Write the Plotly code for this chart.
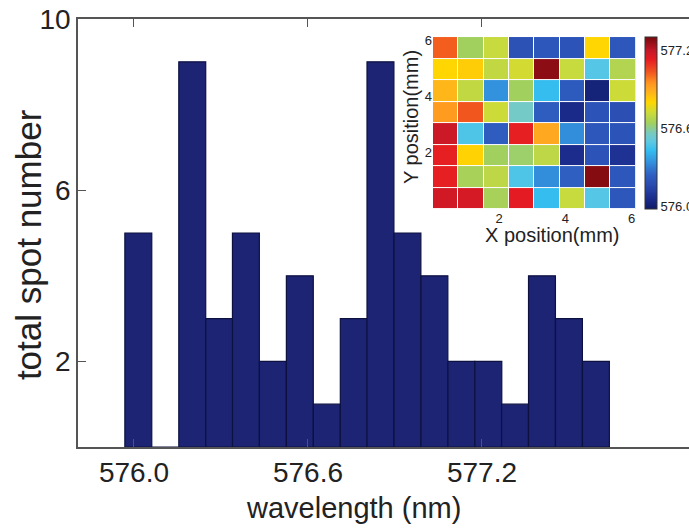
import plotly.graph_objects as go

# ---------------- data ----------------
# histogram bins (bin centres, nm) and counts
bin_centers = [576.015, 576.108, 576.201, 576.294, 576.386, 576.479, 576.572, 576.665,
               576.758, 576.850, 576.943, 577.036, 577.129, 577.222, 577.314, 577.407,
               577.500, 577.593]
counts = [5, 0, 9, 3, 5, 2, 4, 1, 3, 9, 5, 4, 2, 2, 1, 4, 3, 2]
bin_width = 0.0928

x_tick_vals = [576.0, 576.6, 577.2]
x_tick_text = ["576.0", "576.6", "577.2"]
y_tick_vals = [2, 6, 10]
y_tick_text = ["2", "6", "10"]

# inset map: cell centres (mm) and peak wavelength (nm), rows listed top to bottom
x_mm = [0.383, 1.149, 1.915, 2.681, 3.447, 4.213, 4.979, 5.745]
y_mm = [5.745, 4.979, 4.213, 3.447, 2.681, 1.915, 1.149, 0.383]
wl_map = [
    [577.02, 576.64, 576.71, 576.19, 576.21, 576.20, 576.80, 576.21],
    [576.80, 576.82, 576.70, 576.73, 577.27, 576.71, 576.48, 576.67],
    [576.87, 576.70, 576.34, 576.64, 576.43, 576.22, 576.02, 576.72],
    [576.93, 577.03, 576.72, 576.55, 576.23, 576.05, 576.20, 576.18],
    [577.18, 576.47, 576.23, 577.12, 576.90, 576.33, 576.21, 576.20],
    [577.12, 576.81, 576.64, 576.63, 576.69, 576.06, 576.20, 576.08],
    [577.12, 576.65, 576.69, 576.47, 576.33, 576.24, 577.28, 576.21],
    [577.17, 577.16, 576.65, 577.13, 576.43, 576.71, 576.48, 576.21],
]
map_tick_vals = [2, 4, 6]
cbar_tick_vals = [576.0, 576.6, 577.2]
cbar_tick_text = ["576.0", "576.6", "577.2"]

# ---------------- style ----------------
FONT = "Liberation Sans, Arial, Helvetica, sans-serif"
TXT = "#222222"
AX = "#555555"

jet_like = [
    [0.00, "#0f1a66"], [0.06, "#1b2c8c"], [0.14, "#2a4bb0"], [0.20, "#2f60c2"],
    [0.27, "#3290dc"], [0.34, "#34bdf0"], [0.39, "#5ec8e2"], [0.44, "#78cac0"],
    [0.50, "#a2d05e"], [0.56, "#ccdb3a"], [0.62, "#ffd700"], [0.69, "#ffac20"],
    [0.73, "#ff9620"], [0.80, "#f0521f"], [0.87, "#e51b22"], [0.92, "#c51828"],
    [1.00, "#760a0c"],
]

fig = go.Figure()

fig.add_trace(go.Bar(
    x=bin_centers, y=counts, width=bin_width,
    marker=dict(color="#1d2474", line=dict(color="#0c1140", width=1.2)),
    xaxis="x", yaxis="y", showlegend=False,
))

fig.add_trace(go.Heatmap(
    x=x_mm, y=y_mm, z=wl_map,
    zmin=575.98, zmax=577.30, colorscale=jet_like,
    xgap=1, ygap=1,
    xaxis="x2", yaxis="y2",
    colorbar=dict(
        x=0.9280, xanchor="left", xpad=0, ypad=0,
        y=0.556, yanchor="bottom", len=0.402, lenmode="fraction",
        thickness=12, thicknessmode="pixels",
        outlinecolor="#333333", outlinewidth=1,
        tickvals=cbar_tick_vals, ticktext=cbar_tick_text,
        ticks="", ticklen=0,
        tickfont=dict(family=FONT, size=13, color=TXT),
    ),
))

fig.update_layout(
    width=689, height=531,
    margin=dict(l=78, r=0, t=19, b=84, autoexpand=False),
    paper_bgcolor="white", plot_bgcolor="white",
    font=dict(family=FONT, color=TXT),
    xaxis=dict(
        domain=[0, 1], range=[575.807, 577.914],
        showline=True, linecolor=AX, linewidth=1.5, mirror="ticks",
        ticks="inside", ticklen=8, tickcolor=AX, tickwidth=1.2,
        tickvals=x_tick_vals, ticktext=x_tick_text,
        tickfont=dict(family=FONT, size=28, color=TXT),
        showgrid=False, zeroline=False,
    ),
    yaxis=dict(
        domain=[0, 1], range=[0, 10],
        showline=True, linecolor=AX, linewidth=1.5,
        ticks="inside", ticklen=8, tickcolor=AX, tickwidth=1.2,
        tickvals=y_tick_vals, ticktext=y_tick_text,
        tickfont=dict(family=FONT, size=28, color=TXT),
        showgrid=False, zeroline=False,
    ),
    xaxis2=dict(
        domain=[0.581, 0.913], range=[0, 6.13], anchor="y2",
        tickvals=map_tick_vals, ticks="", showline=False,
        tickfont=dict(family=FONT, size=13, color=TXT),
        showgrid=False, zeroline=False,
    ),
    yaxis2=dict(
        domain=[0.556, 0.958], range=[0, 6.13], anchor="x2",
        tickvals=map_tick_vals, ticks="", showline=False,
        tickfont=dict(family=FONT, size=13, color=TXT),
        showgrid=False, zeroline=False,
    ),
    shapes=[
        # dark backing behind the map so the cell gaps read as thin borders
        dict(type="rect", xref="x2 domain", yref="y2 domain",
             x0=0, x1=1, y0=0, y1=1, layer="below",
             fillcolor="#4a5648", line=dict(width=0)),
    ],
    annotations=[
        dict(text="total spot number", xref="paper", yref="paper",
             x=-0.0800, y=0.472, xanchor="center", yanchor="middle",
             textangle=-90, showarrow=False,
             font=dict(family=FONT, size=35, color=TXT)),
        dict(text="wavelength (nm)", xref="paper", yref="paper",
             x=0.4517, y=-0.1425, xanchor="center", yanchor="middle",
             showarrow=False, font=dict(family=FONT, size=29, color=TXT)),
        dict(text="X position(mm)", xref="paper", yref="paper",
             x=0.776, y=0.495, xanchor="center", yanchor="middle",
             showarrow=False, font=dict(family=FONT, size=20, color=TXT)),
        dict(text="Y position(mm)", xref="paper", yref="paper",
             x=0.5450, y=0.771, xanchor="center", yanchor="middle",
             textangle=-90, showarrow=False,
             font=dict(family=FONT, size=20, color=TXT)),
    ],
)

fig.write_html(
    "out.html",
    config={"displayModeBar": False},
    post_script="document.body.style.margin='0';document.body.style.overflow='hidden';",
)
